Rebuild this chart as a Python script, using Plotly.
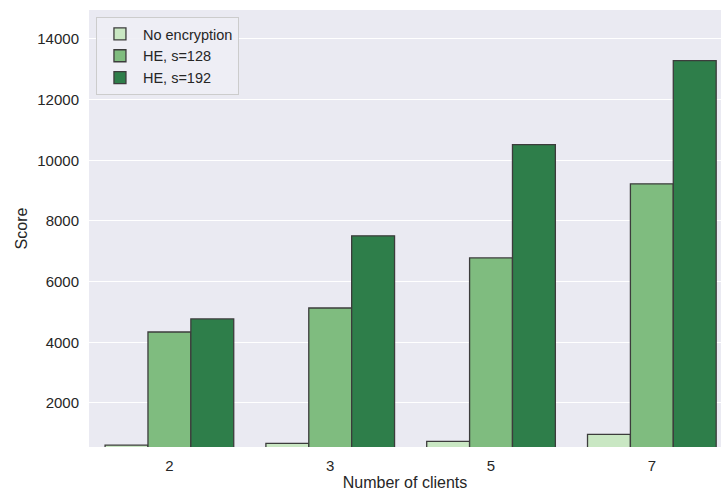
import plotly.graph_objects as go

categories = ["2", "3", "5", "7"]
series_names = ["No encryption", "HE, s=128", "HE, s=192"]
no_enc = [610, 665, 735, 965]
he_128 = [4340, 5130, 6780, 9225]
he_192 = [4770, 7510, 10515, 13285]
values = [no_enc, he_128, he_192]
colors = ["#C9E7C3", "#7FBC7F", "#2E7E4A"]
y_ticks = [2000, 4000, 6000, 8000, 10000, 12000, 14000]

fig = go.Figure()
for name, vals, col in zip(series_names, values, colors):
    fig.add_trace(go.Bar(
        x=categories, y=vals, name=name,
        marker=dict(color=col, line=dict(color="#3C3C3C", width=1.3)),
    ))

fig.update_layout(
    width=721, height=492,
    barmode="group", bargap=0.2, bargroupgap=0,
    paper_bgcolor="white", plot_bgcolor="#EAEAF2",
    margin=dict(l=89, r=0, t=10, b=45),
    font=dict(family="Liberation Sans, Arial, sans-serif", size=15, color="#262626"),
    legend=dict(
        x=0.011, y=0.984, xanchor="left", yanchor="top",
        bgcolor="rgba(238,238,245,0.9)", bordercolor="#CCCCCC", borderwidth=1,
        font=dict(size=14.5, color="#262626"),
        tracegroupgap=0, itemwidth=36,
    ),
    xaxis=dict(
        type="category", range=[-0.5, 3.43], showgrid=False,
        ticks="", tickfont=dict(size=15), zeroline=False, ticklabelstandoff=8,
        title=dict(text="Number of clients", font=dict(size=16), standoff=3),
    ),
    yaxis=dict(
        range=[548, 14955], tickvals=y_ticks, tickformat="d", showgrid=True,
        gridcolor="white", gridwidth=1.2, zeroline=False,
        tickfont=dict(size=15), ticks="", ticklabelstandoff=9,
        title=dict(text="Score", font=dict(size=16), standoff=5),
    ),
)

fig.write_html("out.html", config={"displayModeBar": False},
               post_script="document.body.style.margin='0px';")
